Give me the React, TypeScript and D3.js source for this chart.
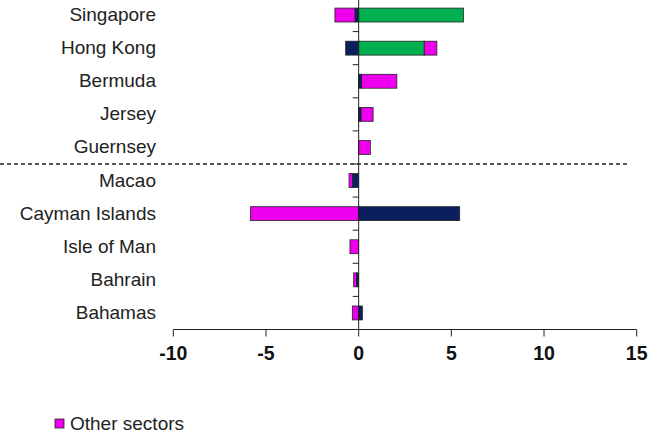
import React from "react";
import * as d3 from "d3";

const categories = ["Singapore", "Hong Kong", "Bermuda", "Jersey", "Guernsey", "Macao", "Cayman Islands", "Isle of Man", "Bahrain", "Bahamas"];
const banks = [-0.2, -0.7, 0.16, 0.13, 0, -0.34, 5.45, 0, -0.12, 0.2];
const officialSector = [5.65, 3.54, 0, 0, 0, 0, 0, 0, 0, 0];
const otherSectors = [-1.08, 0.68, 1.9, 0.65, 0.63, -0.18, -5.83, -0.47, -0.15, -0.34];
const xTicks = [-10, -5, 0, 5, 10, 15];
const seriesKeys = ["banks", "official", "other"];
const seriesColors: Record<string, string> = { banks: "#0b1f5e", official: "#00b050", other: "#ee00ee" };
const legendLabels = ["Other sectors"];

const W = 660;
const H = 434;

export default function App() {
  const x = d3.scaleLinear().domain([-10, 15]).range([173.3, 636.7]);
  const y = d3.scaleBand<string>().domain(categories).range([-1.5, 329.5]).paddingInner(0.58).paddingOuter(0.29);
  const band = d3.scaleBand<string>().domain(categories).range([-1.5, 329.5]);

  const rows = categories.map((c, i) => ({ cat: c, banks: banks[i], official: officialSector[i], other: otherSectors[i] }));
  const stacked = d3.stack<any>().keys(seriesKeys).offset(d3.stackOffsetDiverging)(rows);

  const axisY = 329.5;
  const zeroX = x(0);
  const dividerY = band("Macao")!;

  return (
    <svg width={W} height={H} style={{ position: "absolute", left: 0, top: 0, background: "#fff" }} fontFamily="'Liberation Sans', Arial, sans-serif">
      {/* dashed divider */}
      <line x1={0} x2={629} y1={dividerY} y2={dividerY} stroke="#222" strokeWidth={1.3} strokeDasharray="4,3" />
      {/* bars */}
      {stacked.map((s) => (
        <g key={s.key}>
          {s.map((d, i) => {
            const x0 = x(Math.min(d[0], d[1]));
            const x1 = x(Math.max(d[0], d[1]));
            if (Math.abs(d[1] - d[0]) < 1e-9) return null;
            return (
              <rect key={i} x={x0} y={y(categories[i])!} width={x1 - x0} height={y.bandwidth()} fill={seriesColors[s.key]} stroke="#222" strokeWidth={0.8} />
            );
          })}
        </g>
      ))}
      {/* y axis */}
      <line x1={zeroX} x2={zeroX} y1={0} y2={axisY} stroke="#222" strokeWidth={1} />
      {categories.slice(1).map((c) => (
        <line key={c} x1={zeroX - 6} x2={zeroX} y1={band(c)!} y2={band(c)!} stroke="#222" strokeWidth={1} />
      ))}
      {/* x axis */}
      <line x1={x(-10)} x2={x(15)} y1={axisY} y2={axisY + 0} stroke="#222" strokeWidth={1} />
      {xTicks.map((t) => (
        <g key={t}>
          <line x1={x(t)} x2={x(t)} y1={axisY} y2={axisY + 7} stroke="#222" strokeWidth={1} />
          <text x={x(t)} y={360} textAnchor="middle" fontSize={19.5} fontWeight="bold" fill="#111">{t}</text>
        </g>
      ))}
      {/* category labels */}
      {categories.map((c) => (
        <text key={c} x={156} y={band(c)! + band.bandwidth() / 2 + 6} textAnchor="end" fontSize={19} fill="#222">{c}</text>
      ))}
      {/* legend */}
      {legendLabels.map((l) => (
        <g key={l}>
          <rect x={55} y={419} width={9} height={9} fill={seriesColors.other} stroke="#222" strokeWidth={0.8} />
          <text x={70} y={430} fontSize={19} fill="#222">{l}</text>
        </g>
      ))}
    </svg>
  );
}
